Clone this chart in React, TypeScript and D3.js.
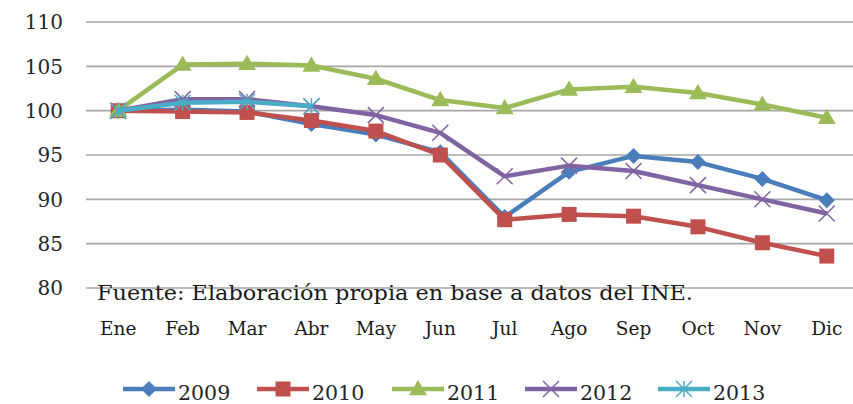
import * as d3 from "d3";

const months = ["Ene", "Feb", "Mar", "Abr", "May", "Jun", "Jul", "Ago", "Sep", "Oct", "Nov", "Dic"];
const yTicks = [80, 85, 90, 95, 100, 105, 110];

const s2009 = [100, 100.1, 99.9, 98.5, 97.3, 95.3, 88.0, 93.1, 94.9, 94.2, 92.3, 89.9];
const s2010 = [100, 99.9, 99.8, 98.9, 97.7, 95.0, 87.7, 88.3, 88.1, 86.9, 85.1, 83.6];
const s2011 = [100, 105.2, 105.3, 105.1, 103.6, 101.2, 100.3, 102.4, 102.7, 102.0, 100.7, 99.2];
const s2012 = [100, 101.3, 101.3, 100.5, 99.5, 97.5, 92.6, 93.8, 93.2, 91.6, 90.0, 88.4];
const s2013 = [100, 100.9, 101.0, 100.5];

const series = [
  { name: "2009", values: s2009, color: "#4a7ebb", marker: "diamond" },
  { name: "2010", values: s2010, color: "#c0504d", marker: "square" },
  { name: "2011", values: s2011, color: "#9bbb59", marker: "triangle" },
  { name: "2012", values: s2012, color: "#8064a2", marker: "x" },
  { name: "2013", values: s2013, color: "#4bacc6", marker: "star" },
];

const W = 853;
const H = 404;
const serif = "DejaVu Serif, serif";

function Marker({ type, x, y, color }: { type: string; x: number; y: number; color: string }) {
  if (type === "diamond") {
    const r = 8;
    return <path d={`M${x},${y - r}L${x + r},${y}L${x},${y + r}L${x - r},${y}Z`} fill={color} />;
  }
  if (type === "square") {
    const r = 7.5;
    return <rect x={x - r} y={y - r} width={2 * r} height={2 * r} fill={color} />;
  }
  if (type === "triangle") {
    const r = 9;
    return <path d={`M${x},${y - r}L${x + r},${y + r * 0.7}L${x - r},${y + r * 0.7}Z`} fill={color} />;
  }
  if (type === "x") {
    const r = 8;
    return (
      <path d={`M${x - r},${y - r}L${x + r},${y + r}M${x - r},${y + r}L${x + r},${y - r}`}
        stroke={color} strokeWidth={1.5} fill="none" />
    );
  }
  const r = 8;
  return (
    <path
      d={`M${x - r},${y - r}L${x + r},${y + r}M${x - r},${y + r}L${x + r},${y - r}M${x},${y - r}L${x},${y + r}`}
      stroke={color} strokeWidth={1.5} fill="none" />
  );
}

export default function App() {
  const x = d3.scaleBand<string>().domain(months).range([86, 859]);
  const y = d3.scaleLinear().domain([80, 110]).range([288, 22]);
  const cx = (i: number) => (x(months[i]) ?? 0) + x.bandwidth() / 2;

  const line = d3.line<number>()
    .x((_, i) => cx(i))
    .y(d => y(d));

  const legendX = [123, 257, 392, 525, 658];

  return (
    <svg width={W} height={H} style={{ position: "absolute", left: 0, top: 0, background: "#fff" }}>
      {yTicks.map(t => (
        <g key={t}>
          <line x1={86} x2={W} y1={y(t)} y2={y(t)} stroke="#a6a6a6" strokeWidth={1.6} />
          <text x={63} y={y(t)} dy="0.36em" textAnchor="end" fontFamily={serif} fontSize={20} fill="#262626">
            {t}
          </text>
        </g>
      ))}

      {series.map(s => (
        <g key={s.name}>
          <path d={line(s.values) ?? ""} fill="none" stroke={s.color} strokeWidth={4.5} strokeLinejoin="round" />
          {s.values.map((v, i) => (
            <Marker key={i} type={s.marker} x={cx(i)} y={y(v)} color={s.color} />
          ))}
        </g>
      ))}

      <text x={97} y={300} fontFamily={serif} fontSize={21} fill="#1a1a1a" textLength={596} lengthAdjust="spacingAndGlyphs">
        Fuente: Elaboración propia en base a datos del INE.
      </text>

      {months.map((m, i) => (
        <text key={m} x={cx(i)} y={335} textAnchor="middle" fontFamily={serif} fontSize={18.5} fill="#1a1a1a">
          {m}
        </text>
      ))}

      {series.map((s, i) => {
        const lx = legendX[i];
        return (
          <g key={s.name}>
            <line x1={lx} x2={lx + 52} y1={389} y2={389} stroke={s.color} strokeWidth={4.5} />
            <Marker type={s.marker} x={lx + 26} y={389} color={s.color} />
            <text x={lx + 55} y={400} fontFamily={serif} fontSize={20.5} fill="#262626">
              {s.name}
            </text>
          </g>
        );
      })}
    </svg>
  );
}
